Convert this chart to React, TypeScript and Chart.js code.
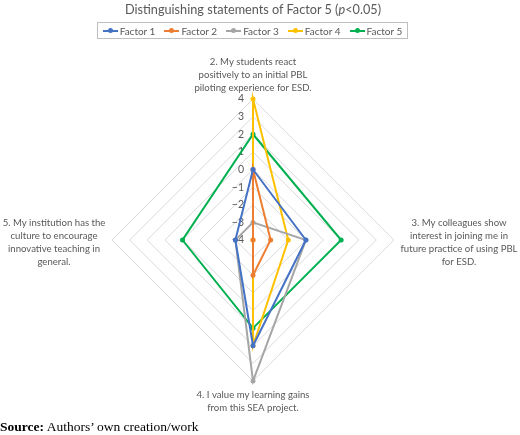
import { useEffect, useRef } from "react";
import { Chart, registerables, type Plugin } from "chart.js";

Chart.register(...registerables);

// statements, one array of text lines each (clockwise from top)
const STATEMENTS: string[][] = [
  ["2. My students react", "positively to an initial PBL", "piloting experience for ESD."],
  ["3. My colleagues show", "interest in joining me in", "future practice of using PBL", "for ESD."],
  ["4. I value my learning gains", "from this SEA project."],
  ["5. My institution has the", "culture to encourage", "innovative teaching in", "general."],
];

const FACTOR_NAMES = ["Factor 1", "Factor 2", "Factor 3", "Factor 4", "Factor 5"];
const FACTOR_1 = [0, -1, 2, -3];
const FACTOR_2 = [0, -3, -2, -4];
const FACTOR_3 = [-3, -1, 4, -3];
const FACTOR_4 = [4, -2, 2, -4];
const FACTOR_5 = [2, 1, 1, 0];
const TICK_VALUES = [-4, -3, -2, -1, 0, 1, 2, 3, 4];

const COLORS = ["#4472C4", "#ED7D31", "#A5A5A5", "#FFC000", "#00B050"];
const TEXT = "#595959";
const FONT = "Lato, 'Open Sans', sans-serif";
const LINE_H = 13;

const labelPlugin: Plugin<"radar"> = {
  id: "excelLabels",
  beforeDatasetsDraw(chart) {
    const scale: any = chart.scales.r;
    const ctx = chart.ctx;
    ctx.save();
    ctx.fillStyle = TEXT;
    ctx.font = `10.5px ${FONT}`;
    ctx.textAlign = "right";
    ctx.textBaseline = "middle";
    TICK_VALUES.forEach((v) => {
      const d = scale.getDistanceFromCenterForValue(v);
      const label = v < 0 ? "\u2212" + Math.abs(v) : String(v);
      ctx.fillText(label, scale.xCenter - 9, scale.yCenter - d);
    });

    ctx.font = `9.6px ${FONT}`;
    ctx.textAlign = "center";
    STATEMENTS.forEach((lines, i) => {
      const n = lines.length;
      let cx = 0;
      let top = 0;
      if (i === 0) {
        const p = scale.getPointPosition(i, scale.drawingArea + 5);
        cx = p.x;
        top = p.y - n * LINE_H;
      } else if (i === 2) {
        const p = scale.getPointPosition(i, scale.drawingArea + 7);
        cx = p.x;
        top = p.y;
      } else if (i === 1) {
        const p = scale.getPointPosition(i, scale.drawingArea + 65);
        cx = p.x;
        top = p.y + 2 - (n * LINE_H) / 2;
      } else {
        const p = scale.getPointPosition(i, scale.drawingArea + 58);
        cx = p.x;
        top = p.y + 2 - (n * LINE_H) / 2;
      }
      lines.forEach((l, k) => ctx.fillText(l, cx, top + LINE_H * k + LINE_H / 2));
    });
    ctx.restore();
  },
};

function LegendItem({ name, color }: { name: string; color: string }) {
  return (
    <div style={{ display: "flex", alignItems: "center", gap: 2, whiteSpace: "nowrap", flex: "none" }}>
      <div style={{ position: "relative", width: 15, height: 6 }}>
        <div style={{ position: "absolute", left: 0, right: 0, top: 2, height: 2, background: color }} />
        <div style={{ position: "absolute", left: 5, top: 0.5, width: 5, height: 5, borderRadius: "50%", background: color }} />
      </div>
      <span>{name}</span>
    </div>
  );
}

export default function App() {
  const canvasRef = useRef<HTMLCanvasElement>(null);

  useEffect(() => {
    if (!canvasRef.current) return;
    const series = [FACTOR_1, FACTOR_2, FACTOR_3, FACTOR_4, FACTOR_5];
    const chart = new Chart(canvasRef.current, {
      type: "radar",
      data: {
        labels: STATEMENTS.map((s) => s.join(" ")),
        datasets: series.map((d, i) => ({
          label: FACTOR_NAMES[i],
          data: d,
          borderColor: COLORS[i],
          backgroundColor: COLORS[i],
          borderWidth: 2,
          fill: false,
          pointRadius: 2.5,
          pointBorderWidth: 0,
          pointBackgroundColor: COLORS[i],
        })),
      },
      options: {
        responsive: false,
        animation: false,
        layout: { padding: { left: 112, right: 126, top: 99, bottom: 54 } },
        plugins: { legend: { display: false }, title: { display: false }, tooltip: { enabled: false } },
        scales: {
          r: {
            min: -4,
            max: 4,
            ticks: { stepSize: 1, display: false },
            grid: { color: "#D9D9D9", lineWidth: 1 },
            angleLines: { display: false },
            pointLabels: { display: false },
          },
        },
      },
      plugins: [labelPlugin],
    });
    return () => chart.destroy();
  }, []);

  return (
    <div style={{ position: "fixed", left: 0, top: 0, width: 520, height: 435, background: "#fff", overflow: "hidden" }}>
      <canvas ref={canvasRef} width={520} height={435} style={{ position: "absolute", left: 0, top: 0, width: 520, height: 435 }} />
      <div style={{ position: "absolute", left: 0, top: 1, width: 506, textAlign: "center", fontFamily: FONT, fontSize: 12.7, color: TEXT }}>
        Distinguishing statements of Factor 5 (<i>p</i>&lt;0.05)
      </div>
      <div
        style={{
          position: "absolute",
          left: 97,
          top: 22,
          width: 309,
          height: 15,
          border: "1px solid #BFBFBF",
          display: "flex",
          alignItems: "center",
          justifyContent: "center",
          gap: 9,
          fontFamily: FONT,
          fontSize: 10,
          color: TEXT,
        }}
      >
        {FACTOR_NAMES.map((n, i) => (
          <LegendItem key={n} name={n} color={COLORS[i]} />
        ))}
      </div>
      <div style={{ position: "absolute", left: 0, top: 419, fontFamily: "'Liberation Serif', 'Times New Roman', serif", fontSize: 13.5, color: "#000", whiteSpace: "nowrap" }}>
        <b>Source:</b> Authors’ own creation/work
      </div>
    </div>
  );
}
